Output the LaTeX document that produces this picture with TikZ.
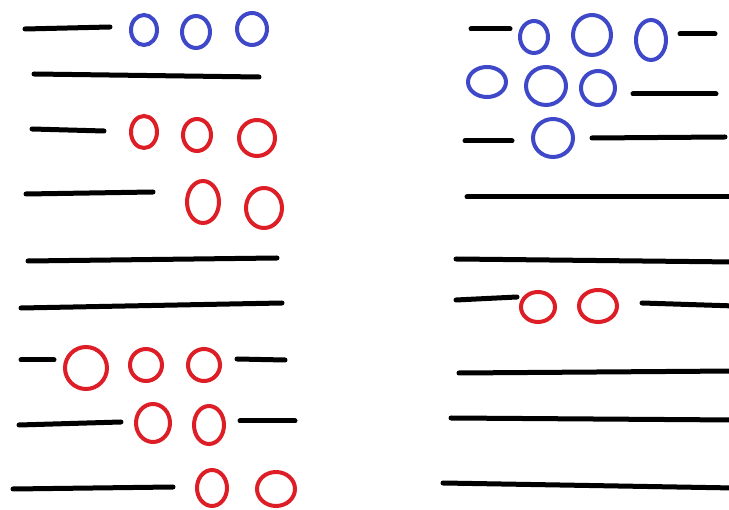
\documentclass[tikz,border=0pt]{standalone}
\definecolor{ringblue}{RGB}{62,72,200}
\definecolor{ringred}{RGB}{222,30,38}
\tikzset{
  bar/.style={line width=5pt, line cap=round, black},
  bring/.style={line width=4pt, ringblue},
  rring/.style={line width=4pt, ringred}
}
\begin{document}
\begin{tikzpicture}[x=1pt,y=-1pt]
\useasboundingbox[fill=white] (0,0) rectangle (729,510);
% ---- left column ----
\draw[bar] (25,29) -- (110,27);
\draw[bring] (144,30) ellipse [x radius=13, y radius=15];
\draw[bring] (196,32) ellipse [x radius=14, y radius=16];
\draw[bring] (252,29) ellipse [x radius=15, y radius=16];
\draw[bar] (34,74) -- (259,77);
\draw[bar] (32,129) -- (104,131);
\draw[rring] (144,132) ellipse [x radius=13, y radius=16];
\draw[rring] (197,135) ellipse [x radius=14, y radius=16];
\draw[rring] (257,138) ellipse [x radius=18, y radius=18];
\draw[bar] (26,194) -- (153,192);
\draw[rring] (203,202) ellipse [x radius=16, y radius=21];
\draw[rring] (264,208) ellipse [x radius=18, y radius=20];
\draw[bar] (28,261) -- (277,258);
\draw[bar] (21,308) -- (282,303);
\draw[bar] (21,360) -- (54,360);
\draw[rring] (86,368) ellipse [x radius=21, y radius=21];
\draw[rring] (146,365) ellipse [x radius=16, y radius=16];
\draw[rring] (204,365) ellipse [x radius=16, y radius=16];
\draw[bar] (237,359) -- (285,360);
\draw[bar] (19,425) -- (121,422);
\draw[rring] (153,423) ellipse [x radius=17, y radius=19];
\draw[rring] (209,425) ellipse [x radius=15, y radius=19];
\draw[bar] (240,421) -- (295,421);
\draw[bar] (13,489) -- (173,487);
\draw[rring] (212,488) ellipse [x radius=15, y radius=18];
\draw[rring] (276,489) ellipse [x radius=19, y radius=17];
% ---- right column ----
\draw[bar] (471,29) -- (510,29);
\draw[bring] (534,37) ellipse [x radius=14, y radius=16];
\draw[bring] (592,35) ellipse [x radius=19, y radius=20];
\draw[bring] (651,40) ellipse [x radius=15, y radius=20];
\draw[bar] (680,34) -- (715,34);
\draw[bring] (487,82) ellipse [x radius=19, y radius=15];
\draw[bring] (546,86) ellipse [x radius=20, y radius=19];
\draw[bring] (598,88) ellipse [x radius=17, y radius=17];
\draw[bar] (633,94) -- (716,94);
\draw[bar] (465,141) -- (512,141);
\draw[bring] (553,138) ellipse [x radius=20, y radius=19];
\draw[bar] (592,138) -- (725,137);
\draw[bar] (467,197) -- (735,197);
\draw[bar] (456,259) -- (735,262);
\draw[bar] (456,300) -- (517,297);
\draw[rring] (538,307) ellipse [x radius=17, y radius=15];
\draw[rring] (598,306) ellipse [x radius=19, y radius=16];
\draw[bar] (642,303) -- (735,306);
\draw[bar] (459,373) -- (735,371);
\draw[bar] (451,418) -- (735,420);
\draw[bar] (443,483) -- (735,488);
\end{tikzpicture}
\end{document}
